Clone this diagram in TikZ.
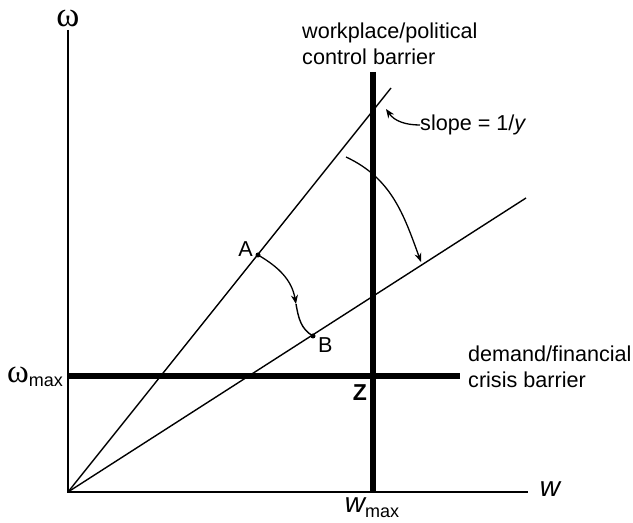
\documentclass[tikz,border=0pt]{standalone}
\usepackage{fontspec}
\setmainfont{Liberation Sans}
\newfontfamily\greekfont{Liberation Serif}
\usetikzlibrary{arrows.meta}
\tikzset{
  axisline/.style={line width=2pt},
  thinline/.style={line width=1.4pt},
  barrierline/.style={line width=5.5pt},
  curvearrow/.style={line width=1.3pt, -{Stealth[length=9pt, width=7pt]}},
  dotmark/.style={circle, fill=black, inner sep=0pt, minimum size=5pt},
  lbl/.style={font=\fontsize{21.6}{26}\selectfont, inner sep=0pt, align=left}
}
\begin{document}
\begin{tikzpicture}[x=1pt, y=1pt]
  \useasboundingbox (0,0) rectangle (633,523);
  % axes
  \coordinate (O) at (68,31);
  \coordinate (ytop) at (68,493);
  \coordinate (xend) at (528,31);
  \draw[axisline] (ytop) -- (O) -- (xend);
  \node[font=\greekfont\fontsize{35}{35}\selectfont, inner sep=0pt, anchor=base] (omega) at (68,496) {ω};
  \node[font=\fontsize{28}{28}\selectfont\itshape, inner sep=0pt] (wlab) at (550,34) {w};
  % rays through the origin
  \coordinate (U) at (391,435);
  \coordinate (L) at (526,325);
  \draw[thinline] (O) -- (U);
  \draw[thinline] (O) -- (L);
  % barriers
  \coordinate (vtop) at (373,451);
  \coordinate (vbot) at (373,31);
  \coordinate (hleft) at (68,147);
  \coordinate (hright) at (460,147);
  \draw[barrierline] (vtop) -- (vbot);
  \draw[barrierline] (hleft) -- (hright);
  \node[dotmark] (Z) at (373,147) {};
  \node[font=\fontsize{23}{23}\selectfont\bfseries, inner sep=0pt] (zlab) at (360,130) {Z};
  \node[lbl, anchor=north west] (wpc) at (302,500) {workplace/political\\control barrier};
  \node[lbl, anchor=north west] (dfc) at (468,177) {demand/financial\\crisis barrier};
  \node[inner sep=0pt, anchor=east] (omax) at (63,146)
    {{\greekfont\fontsize{33}{33}\selectfont ω}\raisebox{-4pt}{\fontsize{18}{18}\selectfont max}};
  \node[inner sep=0pt] (wmax) at (372,15)
    {{\fontsize{28}{28}\selectfont\itshape w}\raisebox{-5pt}{\fontsize{18}{18}\selectfont max}};
  % points A and B
  \node[dotmark] (A) at (258,268) {};
  \node[dotmark] (B) at (313,187) {};
  \node[lbl, anchor=south east] at ([xshift=-5pt, yshift=-2pt]A) {A};
  \node[lbl, anchor=north west] at ([xshift=5pt, yshift=-1pt]B) {B};
  \coordinate (ABmid) at (296,219);
  \draw[curvearrow] (A.center) to[out=-30, in=100] (ABmid);
  \draw[thinline] (ABmid) to[out=-80, in=150] (B.center);
  % rotation of the ray
  \coordinate (rotstart) at (346,366);
  \coordinate (rottip) at (421,261);
  \draw[curvearrow] (rotstart) to[out=-25, in=110] (rottip);
  % slope label
  \node[lbl, anchor=west] (slope) at (420,398) {slope = 1/\textit{y}};
  \coordinate (slopetip) at (386,414);
  \draw[curvearrow] (slope.west) to[out=180, in=-55] (slopetip);
\end{tikzpicture}
\end{document}
